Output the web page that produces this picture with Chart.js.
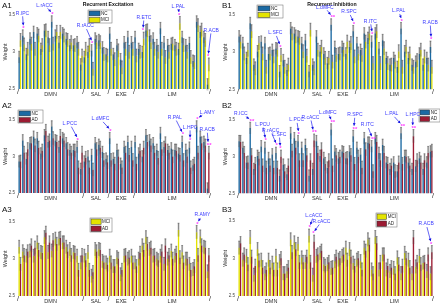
<!DOCTYPE html>
<html>
<head>
<meta charset="utf-8">
<script src="https://cdn.jsdelivr.net/npm/chart.js@4.4.0/dist/chart.umd.min.js"></script>
<style>
  body { margin: 0; background: #fff; width: 440px; height: 303px; position: relative; overflow: hidden; }
  canvas { position: absolute; }
</style>
</head>
<body>
<canvas id="a1" width="220" height="97" style="left:0;top:0"></canvas>
<canvas id="b1" width="220" height="97" style="left:220px;top:0"></canvas>
<canvas id="a2" width="220" height="103" style="left:0;top:97px"></canvas>
<canvas id="b2" width="220" height="103" style="left:220px;top:97px"></canvas>
<canvas id="a3" width="220" height="103" style="left:0;top:200px"></canvas>
<canvas id="b3" width="220" height="103" style="left:220px;top:200px"></canvas>
<script>
// ---- data ----
const groupNames = ["DMN", "SAL", "EXE", "LIM"];
const groupSizes = [18, 7, 7, 21];
const yTicks = [2.5, 3, 3.5];

// recurrent excitation (column A)
const ncExc = [2.93, 3.22, 2.97, 3.18, 3.27, 3.25, 3.04, 3.29, 3.20, 3.41, 3.22, 3.13, 3.25, 3.18, 3.09, 3.09, 3.13, 2.83,
  2.93, 3.00, 3.02, 3.18, 3.16, 3.06, 2.97,
  3.25, 2.97, 3.09, 2.90, 3.13, 3.20, 3.13,
  3.20, 3.04, 3.00, 3.29, 3.22, 3.18, 3.09, 3.32, 3.13, 3.09, 3.11, 3.09, 3.04, 3.20, 3.09, 3.12, 2.88, 3.41, 3.27, 3.20, 2.56];
const mciExc = [3.16, 3.10, 3.04, 3.11, 3.04, 3.22, 3.09, 3.29, 3.09, 3.11, 3.27, 3.27, 3.22, 3.16, 3.13, 3.09, 3.04, 2.95,
  3.04, 3.09, 2.77, 3.13, 3.13, 2.97, 2.95,
  3.04, 2.90, 3.02, 2.79, 3.04, 3.00, 3.04,
  2.95, 3.00, 3.18, 3.29, 3.13, 3.04, 3.00, 3.04, 2.93, 3.00, 3.11, 3.04, 3.39, 3.09, 3.00, 2.93, 2.86, 3.36, 3.30, 3.16, 2.83];
const adExc = [2.93, 3.05, 3.10, 3.18, 3.15, 3.12, 3.08, 3.35, 3.22, 3.25, 3.20, 3.28, 3.22, 3.10, 3.05, 3.08, 2.85, 3.05,
  2.98, 2.85, 2.82, 3.10, 3.12, 2.95, 2.92,
  2.95, 2.90, 3.00, 2.85, 3.05, 3.02, 2.95,
  2.90, 3.08, 3.12, 3.20, 3.15, 3.05, 2.98, 3.10, 3.18, 3.05, 3.00, 3.08, 3.02, 2.95, 3.00, 2.85, 2.90, 3.05, 3.18, 3.15, 3.05];

// recurrent inhibition (column B)
const ncInh = [3.21, 3.12, 2.92, 3.39, 2.83, 3.01, 3.14, 3.12, 2.98, 3.03, 3.05, 2.74, 2.89, 2.76, 3.32, 3.25, 3.21, 3.12,
  3.16, 2.74, 2.83, 3.21, 3.01, 2.98, 2.85,
  3.37, 3.07, 2.98, 3.07, 2.98, 3.07, 3.28,
  3.12, 3.03, 3.25, 3.19, 3.14, 3.25, 3.05, 3.16, 2.92, 2.83, 2.92, 2.80, 3.32, 3.01, 2.92, 2.83, 2.87, 2.98, 2.83, 2.92, 3.07];
const mciInh = [3.14, 2.98, 3.03, 3.28, 2.78, 3.12, 2.98, 2.80, 2.98, 2.94, 3.03, 2.96, 2.80, 2.83, 3.25, 3.21, 3.19, 3.01,
  2.95, 3.30, 2.78, 3.03, 3.07, 2.92, 2.92,
  2.87, 2.96, 2.98, 3.03, 3.14, 3.12, 2.94,
  2.98, 2.96, 3.14, 3.25, 2.85, 3.28, 2.85, 3.05, 2.85, 2.83, 2.87, 3.01, 2.80, 3.07, 2.98, 2.80, 2.89, 3.03, 2.94, 2.83, 2.80];
const adInh = [3.20, 3.05, 2.92, 3.02, 2.90, 2.97, 2.88, 2.85, 2.88, 2.85, 2.85, 3.00, 2.80, 2.88, 3.08, 3.12, 2.95, 2.95,
  3.02, 2.95, 3.22, 3.05, 3.10, 2.90, 2.95,
  2.88, 3.02, 3.00, 3.05, 2.98, 3.02, 2.90,
  3.00, 2.85, 3.10, 3.18, 2.80, 3.20, 2.95, 3.05, 2.90, 2.88, 2.80, 2.92, 2.90, 3.00, 2.88, 3.28, 2.95, 2.92, 2.95, 3.05, 3.08];

// error bar half-lengths per group
const errNC = 0.08, errMCI = 0.09, errAD = 0.09;

const regionNo = [];
for (let i = 1; i <= 53; i++) regionNo.push(String(i));

// ---- significance notes (label, region index, stars, text offset from star) ----
const notesA1 = [
  { t: "R.IPC", i: 1, s: "*", dx: -1, dy: -14 },
  { t: "L.rACC", i: 9, s: "*", dx: -8, dy: -8 },
  { t: "R.rACC", i: 20, s: "*", dx: -7, dy: -16 },
  { t: "R.ETC", i: 34, s: "*", dx: 1, dy: -12 },
  { t: "L.PAL", i: 44, s: "*", dx: -1, dy: -7 },
  { t: "R.ACB", i: 52, s: "*", dx: 3, dy: -25 }
];
const notesB1 = [
  { t: "L.SFC", i: 11, s: "*", dx: -5, dy: -13 },
  { t: "L.dMFC", i: 25, s: "**", dx: -7, dy: -9 },
  { t: "R.SPC", i: 31, s: "*", dx: -5, dy: -11 },
  { t: "R.ITC", i: 36, s: "*", dx: -2, dy: -12 },
  { t: "L.PAL", i: 44, s: "*", dx: -3, dy: -9 },
  { t: "R.ACB", i: 52, s: "*", dx: -1, dy: -16 }
];
const notesA2 = [
  { t: "L.PCC", i: 16, s: "*", dx: -8, dy: -15 },
  { t: "L.dMFC", i: 25, s: "*", dx: -10, dy: -11 },
  { t: "R.PAL", i: 45, s: "*", dx: -8, dy: -16 },
  { t: "L.HPC", i: 47, s: "*", dx: 0, dy: -12 },
  { t: "L.AMY", i: 49, s: "*", dx: 10, dy: -6 },
  { t: "R.ACB", i: 52, s: "**", dx: -1, dy: -14 }
];
const notesB2 = [
  { t: "R.ICC", i: 3, s: "**", dx: -10, dy: -6 },
  { t: "L.PCU", i: 7, s: "*", dx: -3, dy: -15 },
  { t: "R.rACC", i: 10, s: "*", dx: -6, dy: -14 },
  { t: "L.SFC", i: 11, s: "*", dx: -1, dy: -13 },
  { t: "L.PCC", i: 16, s: "*", dx: -2, dy: -13 },
  { t: "R.cACC", i: 20, s: "**", dx: -3, dy: -14 },
  { t: "L.dMFC", i: 25, s: "**", dx: -4, dy: -9 },
  { t: "R.SPC", i: 31, s: "**", dx: 1, dy: -13 },
  { t: "R.ITC", i: 36, s: "**", dx: -5, dy: -13 },
  { t: "L.PAL", i: 44, s: "**", dx: -10, dy: -11 },
  { t: "L.HPC", i: 47, s: "**", dx: 0, dy: -12 }
];
const notesA3 = [
  { t: "R.AMY", i: 49, s: "*", dx: 5, dy: -8 }
];
const notesB3 = [
  { t: "L.cACC", i: 19, s: "*", dx: 4, dy: -11 },
  { t: "R.cACC", i: 20, s: "*", dx: 8, dy: -11 },
  { t: "R.ACB", i: 52, s: "*", dx: -5, dy: -19 }
];

// ---- look ----
const FONT = '"Liberation Sans", Arial, sans-serif';
const BLUE = "#1b6aa3";
const YELLOW = "#e4e400";
const RED = "#9c1b33";
const NOTE = "#3a3aff";
const STAR = "#ff3cff";

function drawNote(ctx, n, x, y, v1, v2, e1, e2) {
  const sx = x.getPixelForValue(n.i);
  const sy = y.getPixelForValue(Math.max(v1[n.i] + e1, v2[n.i] + e2)) - 2.5;
  const tx = sx + n.dx, ty = sy + n.dy;

  ctx.font = "5px " + FONT;
  ctx.textAlign = "center";
  ctx.textBaseline = "middle";
  ctx.fillStyle = NOTE;
  ctx.fillText(n.t, tx, ty);

  // arrow from the label to the stars
  const hw = ctx.measureText(n.t).width / 2 + 0.5;
  const ddx = sx - tx, ddy = sy - ty;
  const k = Math.min(ddx !== 0 ? hw / Math.abs(ddx) : 99, ddy !== 0 ? 3 / Math.abs(ddy) : 99);
  const x0 = tx + ddx * k, y0 = ty + ddy * k;
  const len = Math.hypot(sx - x0, sy - y0);
  if (len > 3) {
    const ux = (sx - x0) / len, uy = (sy - y0) / len;
    const x1 = sx - ux * 2, y1 = sy - uy * 2;
    ctx.strokeStyle = "#2424f0";
    ctx.lineWidth = 0.7;
    ctx.beginPath();
    ctx.moveTo(x0, y0);
    ctx.lineTo(x1, y1);
    ctx.stroke();
    ctx.fillStyle = "#1010e0";
    ctx.beginPath();
    ctx.moveTo(x1, y1);
    ctx.lineTo(x1 - ux * 2.6 - uy * 1.4, y1 - uy * 2.6 + ux * 1.4);
    ctx.lineTo(x1 - ux * 2.6 + uy * 1.4, y1 - uy * 2.6 - ux * 1.4);
    ctx.closePath();
    ctx.fill();
  }

  ctx.font = "bold 6px " + FONT;
  ctx.fillStyle = STAR;
  ctx.fillText(n.s, sx + (n.s.length > 1 ? 1 : 0), sy + 1.2);
}

function makePanel(id, p) {
  const canvas = document.getElementById(id);
  new Chart(canvas, {
    type: "bar",
    data: {
      labels: regionNo,
      datasets: [
        { label: p.names[0], data: p.v1, backgroundColor: p.colors[0], categoryPercentage: 0.74, barPercentage: 1 },
        { label: p.names[1], data: p.v2, backgroundColor: p.colors[1], categoryPercentage: 0.74, barPercentage: 1 }
      ]
    },
    options: {
      responsive: false,
      animation: false,
      devicePixelRatio: 1,
      layout: { padding: { left: 0, right: p.padR, top: p.padT, bottom: p.padB } },
      plugins: { legend: { display: false }, tooltip: { enabled: false } },
      scales: {
        x: { display: false },
        y: {
          min: 2.5,
          max: 3.6,
          afterFit: (s) => { s.width = 18; },
          afterBuildTicks: (s) => { s.ticks = yTicks.map((v) => ({ value: v })); },
          grid: { display: false, drawTicks: false },
          border: { display: false },
          ticks: { padding: 3, color: "#444", font: { size: 4.5, family: FONT }, callback: (v) => String(v) }
        }
      }
    },
    plugins: [{
      id: "deco",
      afterDatasetsDraw(chart) {
        const { ctx, scales: { y } } = chart;
        const errs = [p.e1, p.e2];
        ctx.save();
        chart.data.datasets.forEach((ds, di) => {
          chart.getDatasetMeta(di).data.forEach((bar, i) => {
            const v = ds.data[i], e = errs[di];
            const yt = y.getPixelForValue(v + e), yb = y.getPixelForValue(v - e);
            const w = bar.width + 0.6;
            ctx.fillStyle = "rgba(80,80,80,0.3)";
            ctx.fillRect(bar.x - w / 2, yt, w, yb - yt);
            ctx.strokeStyle = "#333";
            ctx.lineWidth = 0.45;
            ctx.beginPath();
            ctx.moveTo(bar.x, yt);
            ctx.lineTo(bar.x, y.getPixelForValue(v));
            ctx.moveTo(bar.x - 0.9, yt);
            ctx.lineTo(bar.x + 0.9, yt);
            ctx.stroke();
          });
        });
        ctx.restore();
      },
      afterDraw(chart) {
        const { ctx, chartArea: a, scales: { x, y } } = chart;
        ctx.save();

        // panel tag and title
        ctx.fillStyle = "#111";
        ctx.textBaseline = "middle";
        ctx.textAlign = "left";
        ctx.font = "8px " + FONT;
        ctx.fillText(p.tag, 2, p.tagY);
        if (p.title) {
          ctx.font = "bold 5.2px " + FONT;
          ctx.textAlign = "center";
          ctx.fillText(p.title, p.titleX, 5);
        }

        // y title
        ctx.save();
        ctx.translate(5, y.getPixelForValue(3));
        ctx.rotate(-Math.PI / 2);
        ctx.font = "5.5px " + FONT;
        ctx.fillStyle = "#333";
        ctx.textAlign = "center";
        ctx.fillText("Weight", 0, 0);
        ctx.restore();

        // network groups with slash separators
        const bounds = [-0.5];
        groupSizes.forEach((n) => bounds.push(bounds[bounds.length - 1] + n));
        ctx.fillStyle = "#222";
        ctx.textAlign = "center";
        ctx.font = "7px " + FONT;
        bounds.forEach((b) => ctx.fillText("/", x.getPixelForValue(b), a.bottom + 3));
        ctx.font = "5.5px " + FONT;
        ctx.fillStyle = "#333";
        groupNames.forEach((g, k) => {
          const cx = (x.getPixelForValue(bounds[k]) + x.getPixelForValue(bounds[k + 1])) / 2;
          ctx.fillText(g, cx, a.bottom + 5.5);
        });

        // legend box
        const L = p.legend;
        ctx.fillStyle = "#fff";
        ctx.fillRect(L.x, L.y, L.w, L.h);
        ctx.strokeStyle = "#666";
        ctx.lineWidth = 0.5;
        ctx.strokeRect(L.x, L.y, L.w, L.h);
        const rh = L.h / 2;
        p.names.forEach((nm, k) => {
          const ry = L.y + k * rh;
          ctx.fillStyle = p.colors[k];
          ctx.fillRect(L.x + 1, ry + 1, L.w * 0.46, rh - 1.6);
          ctx.strokeStyle = "#333";
          ctx.strokeRect(L.x + 1, ry + 1, L.w * 0.46, rh - 1.6);
          ctx.fillStyle = "#222";
          ctx.textAlign = "left";
          ctx.font = "4.5px " + FONT;
          ctx.fillText(nm, L.x + 2 + L.w * 0.46, ry + rh / 2 + 0.3);
        });

        p.notes.forEach((n) => drawNote(ctx, n, x, y, p.v1, p.v2, p.e1, p.e2));
        ctx.restore();
      }
    }]
  });
}

makePanel("a1", {
  tag: "A1", tagY: 6, title: "Recurrent Excitation", titleX: 108,
  v1: ncExc, v2: mciExc, e1: errNC, e2: errMCI, names: ["NC", "MCI"], colors: [BLUE, YELLOW],
  padT: 7.6, padB: 8, padR: 10,
  legend: { x: 88, y: 10, w: 24, h: 13 }, notes: notesA1
});
makePanel("b1", {
  tag: "B1", tagY: 6, title: "Recurrent Inhibition", titleX: 112,
  v1: ncInh, v2: mciInh, e1: errNC, e2: errMCI, names: ["NC", "MCI"], colors: [BLUE, YELLOW],
  padT: 7.6, padB: 7.7, padR: 7,
  legend: { x: 37, y: 5, w: 26, h: 13 }, notes: notesB1
});
makePanel("a2", {
  tag: "A2", tagY: 9,
  v1: ncExc, v2: adExc, e1: errNC, e2: errAD, names: ["NC", "AD"], colors: [BLUE, RED],
  padT: 15.7, padB: 7, padR: 10,
  legend: { x: 18, y: 13, w: 25, h: 13 }, notes: notesA2
});
makePanel("b2", {
  tag: "B2", tagY: 9,
  v1: ncInh, v2: adInh, e1: errNC, e2: errAD, names: ["NC", "AD"], colors: [BLUE, RED],
  padT: 15.7, padB: 6.7, padR: 7,
  legend: { x: 199, y: 12, w: 21, h: 13 }, notes: notesB2
});
makePanel("a3", {
  tag: "A3", tagY: 10,
  v1: mciExc, v2: adExc, e1: errMCI, e2: errAD, names: ["MCI", "AD"], colors: [YELLOW, RED],
  padT: 14.3, padB: 7, padR: 10,
  legend: { x: 90, y: 18, w: 22, h: 14 }, notes: notesA3
});
makePanel("b3", {
  tag: "B3", tagY: 10,
  v1: mciInh, v2: adInh, e1: errMCI, e2: errAD, names: ["MCI", "AD"], colors: [YELLOW, RED],
  padT: 13.2, padB: 7, padR: 7,
  legend: { x: 156, y: 13, w: 21, h: 14 }, notes: notesB3
});
</script>
</body>
</html>
